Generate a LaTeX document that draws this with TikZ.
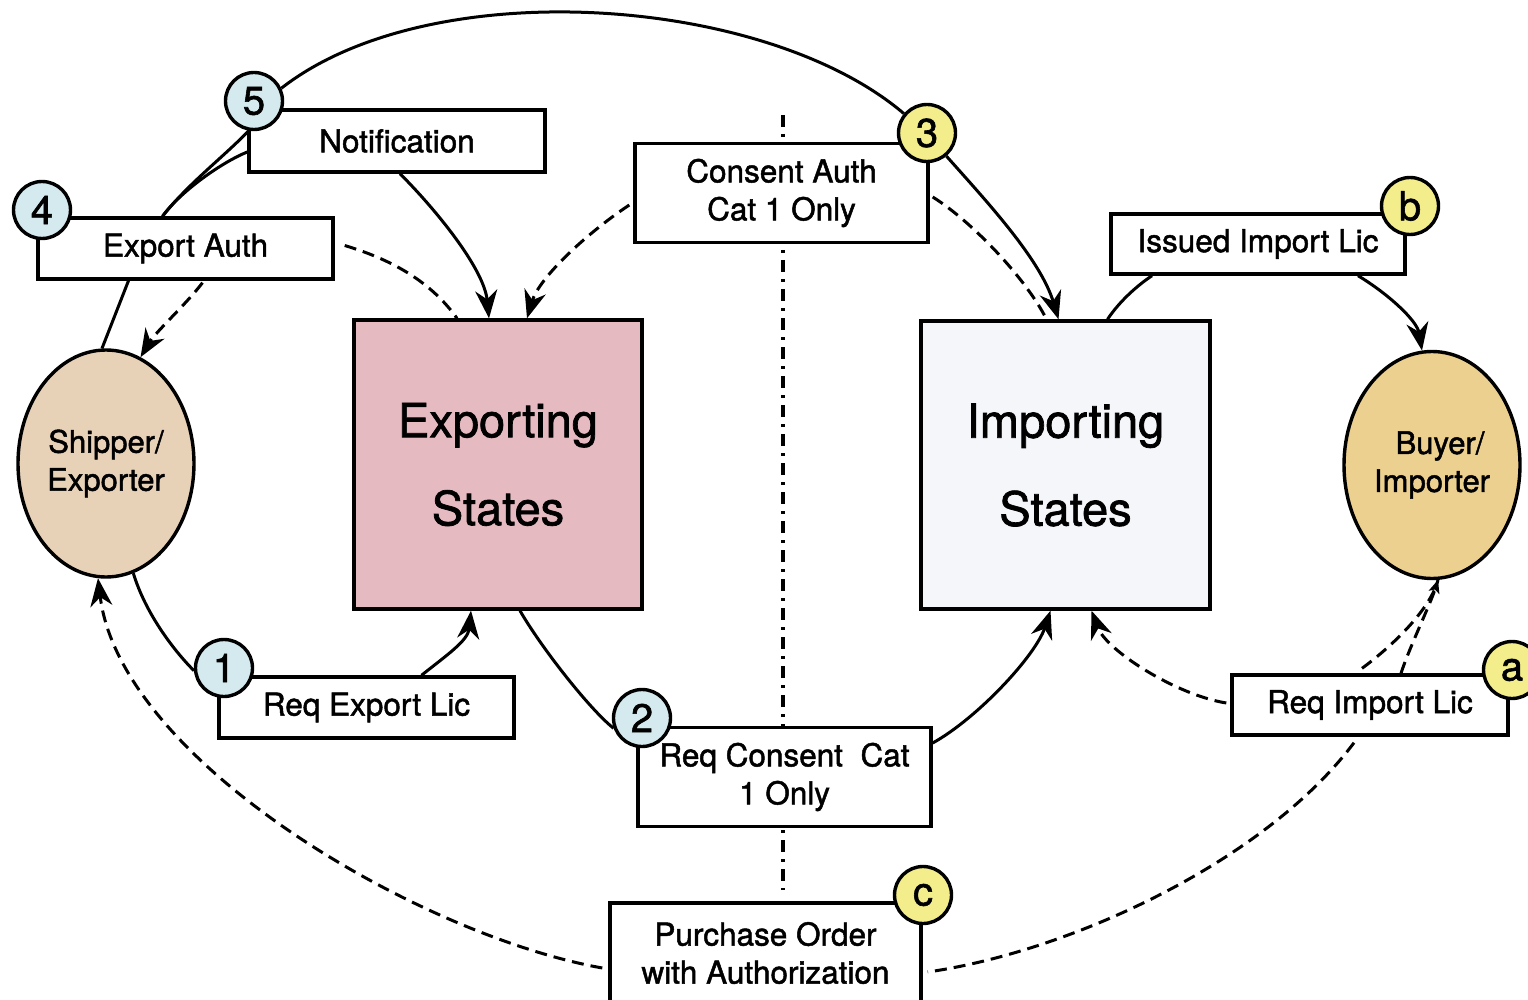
\documentclass[tikz,border=0pt]{standalone}
\usepackage{fontspec}
\setmainfont{TeX Gyre Heros}[FakeBold=1.5]
\usetikzlibrary{shapes.geometric,arrows.meta,calc}

\pgfdeclarelayer{paper}
\pgfdeclarelayer{links}
\pgfsetlayers{paper,links,main}

\definecolor{shipfill}{HTML}{E7D1B7}
\definecolor{buyfill}{HTML}{ECD08F}
\definecolor{expfill}{HTML}{E5BAC0}
\definecolor{impfill}{HTML}{F5F6FA}
\definecolor{stepblue}{HTML}{D4EAEE}
\definecolor{stepyellow}{HTML}{F3EE8B}

\tikzset{
  box/.style={draw, line width=3.4pt, fill=white, inner sep=0pt, align=center,
    font=\fontsize{31.5}{38}\selectfont},
  state/.style={draw, line width=3.4pt, inner sep=0pt, align=center,
    font=\fontsize{47}{88}\selectfont},
  party/.style={ellipse, draw, line width=3.4pt, minimum width=176pt,
    minimum height=227pt, inner sep=0pt, align=center,
    font=\fontsize{31}{38}\selectfont},
  badge/.style={circle, draw, line width=3.4pt, minimum size=57pt,
    inner sep=0pt, font=\fontsize{40}{40}\selectfont},
  flow/.style={line width=3pt},
  hint/.style={line width=3pt, dash pattern=on 12pt off 7pt},
  divider/.style={line width=3.2pt, dash pattern=on 12pt off 7pt on 3pt off 7pt},
  tip/.style={-{Stealth[length=28pt,width=22pt,inset=9pt]}},
  smalltip/.style={-{Stealth[length=13pt,width=11pt,inset=3pt]}},
}

\begin{document}
\begin{tikzpicture}[x=1pt, y=-1pt]
\useasboundingbox (0,0) rectangle (1528,1000);
\begin{pgfonlayer}{paper}
  \fill[white] (0,0) rectangle (1528,1000);
\end{pgfonlayer}

% parties and states
\node[party, fill=shipfill] (ship) at (106,463.5) {Shipper/\\Exporter};
\node[party, fill=buyfill] (buy) at (1432,465) {\hspace*{16pt}Buyer/\\Importer};
\node[state, fill=expfill, minimum width=288pt, minimum height=289pt] (exs) at (498,464.5) {Exporting\\States};
\node[state, fill=impfill, minimum width=289pt, minimum height=288pt] (ims) at (1065.5,465) {Importing\\States};

% documents
\node[box, minimum width=296pt, minimum height=62pt] (notif) at (397,141) {Notification};
\node[box, minimum width=295pt, minimum height=61pt] (expauth) at (185.5,248.5) {Export Auth};
\node[box, minimum width=293pt, minimum height=99pt] (consauth) at (781.5,193) {Consent Auth\\Cat 1 Only};
\node[box, minimum width=294pt, minimum height=60pt] (issued) at (1258,244) {Issued Import Lic};
\node[box, minimum width=276pt, minimum height=60pt] (reqimp) at (1370,705) {Req Import Lic};
\node[box, minimum width=295pt, minimum height=61pt] (reqexp) at (366.5,707.5) {Req Export Lic};
\node[box, minimum width=293pt, minimum height=99pt] (reqcons) at (784.5,777) {Req Consent\ \ Cat\\1 Only};
\node[box, minimum width=311pt, minimum height=100pt] (po) at (765.5,953) {Purchase Order\\with Authorization};

% step badges
\node[badge, fill=stepblue] (s1) at (224,668) {1};
\node[badge, fill=stepblue] (s2) at (642,718) {2};
\node[badge, fill=stepyellow] (s3) at (927,133) {3};
\node[badge, fill=stepblue] (s4) at (42,210) {4};
\node[badge, fill=stepblue] (s5) at (254,101) {5};
\node[badge, fill=stepyellow] (sa) at (1512,670) {a};
\node[badge, fill=stepyellow] (sb) at (1410,206) {b};
\node[badge, fill=stepyellow] (sc) at (923,895) {c};

\coordinate (divtop) at (783,115);
\coordinate (divbot) at (783,890);

\begin{pgfonlayer}{links}
  % border between exporting and importing side
  \draw[divider] (divtop) -- (divbot);

  % export side, solid flow
  \draw[flow] (s5.25) .. controls (430,-28) and (765,-5) .. (s3.140);
  \draw[flow, tip] (s3.-50) .. controls +(40,45) and +(-18,-60) .. ($(ims.north)+(-7,0)$);
  \draw[flow] ($(expauth.north)+(-23,0)$) .. controls +(25,-32) and +(-25,26) .. (s5.-100);
  \draw[flow] ($(expauth.north)+(-23,0)$) .. controls +(18,-25) and +(-25,10) .. ($(notif.west)+(0,11)$);
  \draw[flow] ($(expauth.south)+(-57,0)$) -- (ship.92);
  \draw[flow, tip] ($(notif.south)+(3,0)$) .. controls +(35,35) and +(-5,-50) .. ($(exs.north)+(-9,0)$);
  \draw[flow] (ship.-76) .. controls +(12,40) and +(-20,-20) .. (s1.185);
  \draw[flow, tip] ($(reqexp.north)+(55,0)$) .. controls +(25,-20) and +(-3,30) .. ($(exs.south)+(-27,0)$);
  \draw[flow] ($(exs.south)+(22,0)$) .. controls +(20,35) and +(-25,-20) .. (s2.200);
  \draw[flow, tip] ($(reqcons.east)+(0,-34)$) .. controls +(45,-25) and +(-15,45) .. ($(ims.south)+(-15,0)$);

  % import side, solid flow
  \draw[flow] ($(ims.north)+(42,0)$) .. controls +(12,-18) and +(-15,10) .. ($(issued.south)+(-106,0)$);
  \draw[flow, tip] ($(issued.south)+(100,0)$) .. controls +(30,18) and +(-5,-30) .. (buy.95);

  % dashed copies and requests
  \draw[hint, tip] ($(expauth.south)+(17,2)$) .. controls +(-15,20) and +(15,-25) .. (ship.72);
  \draw[hint] ($(expauth.east)+(10,-3)$) .. controls +(50,15) and +(-25,-35) .. ($(exs.north)+(-41,0)$);
  \draw[hint, tip] ($(consauth.west)+(-4,12)$) .. controls +(-45,30) and +(12,-40) .. ($(exs.north)+(29,0)$);
  \draw[hint] ($(consauth.east)+(3,4)$) .. controls +(40,25) and +(-20,-40) .. ($(ims.north)+(-19,0)$);
  \draw[hint, smalltip] ($(reqimp.north)+(31,0)$) .. controls +(8,-25) and +(-8,25) .. (buy.-87);
  \draw[hint] ($(reqimp.north)+(-8,-5)$) .. controls +(30,-22) and +(-8,30) .. (buy.-87);
  \draw[hint, tip] ($(reqimp.west)+(-4,-2)$) .. controls +(-50,-8) and +(15,40) .. ($(ims.south)+(26,0)$);
  \draw[hint] ($(reqimp.south)+(-16,6)$) .. controls +(-90,120) and +(140,-20) .. ($(po.east)+(5,19)$);
  \draw[hint, tip] ($(po.west)+(-6,15)$) .. controls +(-184,-33) and +(22,182) .. (ship.-94);
\end{pgfonlayer}
\end{tikzpicture}
\end{document}
